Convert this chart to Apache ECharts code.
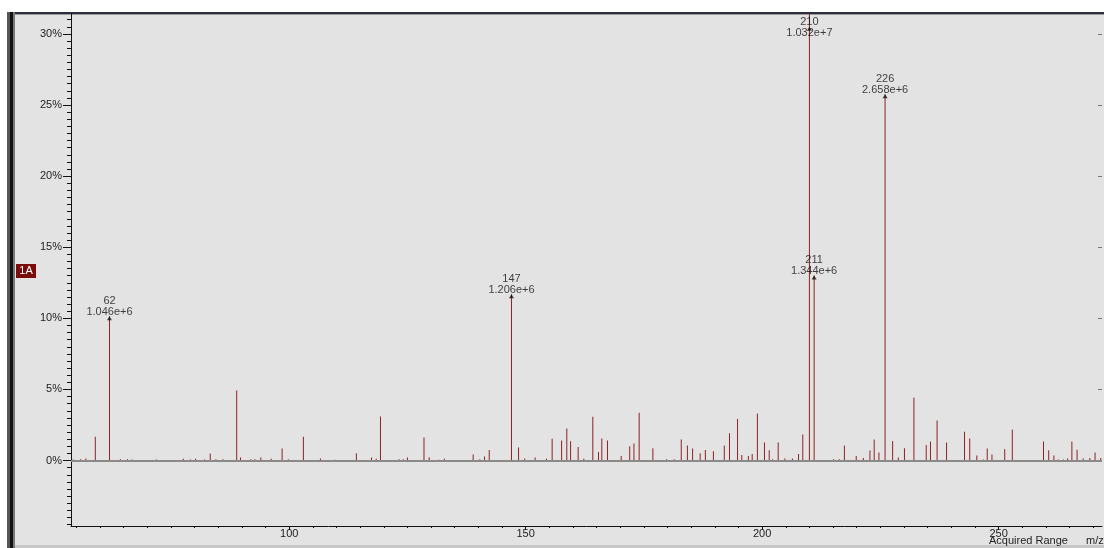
<!DOCTYPE html>
<html>
<head>
<meta charset="utf-8">
<script src="https://cdn.jsdelivr.net/npm/echarts@6/dist/echarts.min.js"></script>
<style>
  html, body { margin: 0; padding: 0; background: #fff; }
  #spec { width: 1104px; height: 548px; }
</style>
</head>
<body>
<div id="spec"></div>
<script>
// m/z of every line and its height in % of the base peak (210)
const mz = [
  54.3, 55.9, 57.0, 59.0, 62, 64.3, 65.8, 66.8, 67.8, 71.9,
  75.6, 77.6, 79.1, 80.2, 82.1, 83.3, 84.5, 86.0, 88.9, 89.7,
  91.9, 92.7, 94.0, 96.2, 98.5, 99.8, 103.0, 106.6, 109.7, 114.2,
  117.4, 118.4, 119.3, 123.2, 124.1, 125.0, 128.5, 129.6, 131.7, 132.8,
  138.9, 140.3, 141.3, 142.3, 147, 148.5, 149.8, 152.0, 154.4, 155.6,
  157.6, 158.7, 159.5, 161.1, 162.3, 164.2, 165.4, 166.1, 167.3, 170.2,
  172.0, 172.9, 174.0, 176.9, 179.8, 181.4, 182.9, 184.2, 185.3, 186.9,
  188.0, 189.7, 192.0, 193.1, 194.8, 195.7, 197.1, 197.9, 199.0, 200.5,
  201.5, 202.2, 203.4, 204.8, 206.4, 207.7, 208.6, 210, 211, 215.1,
  216.3, 217.4, 219.9, 221.4, 222.8, 223.7, 224.7, 226, 227.6, 228.8,
  230.1, 232.1, 234.7, 235.6, 237.0, 239.0, 242.8, 243.9, 245.4, 246.8,
  247.6, 248.6, 251.3, 252.9, 259.5, 260.6, 261.7, 262.6, 263.7, 264.6,
  265.5, 266.6, 267.9, 269.3, 270.4, 271.6
];
const rel = [
  0.07, 0.10, 0.15, 1.67, 10.14, 0.10, 0.10, 0.07, 0.03, 0.07,
  0.03, 0.12, 0.07, 0.12, 0.07, 0.49, 0.10, 0.10, 4.93, 0.21,
  0.10, 0.10, 0.21, 0.12, 0.85, 0.10, 1.67, 0.14, 0.05, 0.52,
  0.21, 0.12, 3.10, 0.10, 0.10, 0.21, 1.62, 0.23, 0.05, 0.12,
  0.42, 0.10, 0.28, 0.75, 11.69, 0.92, 0.14, 0.21, 0.12, 1.53,
  1.41, 2.25, 1.36, 0.96, 0.12, 3.08, 0.61, 1.55, 1.41, 0.33,
  1.01, 1.20, 3.36, 0.87, 0.10, 0.10, 1.48, 1.06, 0.85, 0.52,
  0.75, 0.66, 1.06, 1.92, 2.93, 0.40, 0.33, 0.47, 3.31, 1.27,
  0.73, 0.10, 1.27, 0.14, 0.14, 0.47, 1.83, 100, 13.02, 0.10,
  0.10, 1.06, 0.33, 0.19, 0.70, 1.48, 0.56, 25.76, 1.38, 0.21,
  0.87, 4.44, 1.10, 1.34, 2.82, 1.27, 2.02, 1.55, 0.35, 0.07,
  0.85, 0.42, 0.82, 2.18, 1.34, 0.73, 0.35, 0.07, 0.07, 0.14,
  1.34, 0.77, 0.14, 0.19, 0.56, 0.19
];

// labelled peaks
const peakMz = [62, 147, 210, 211, 226];
const peakCounts = ['1.046e+6', '1.206e+6', '1.032e+7', '1.344e+6', '2.658e+6'];

// axis ticks / labels
const xLabels = [100, 150, 200, 250];
const xTicks = [];
for (let v = 55; v <= 270; v += 5) xTicks.push(v);
const yLabels = [0, 5, 10, 15, 20, 25, 30];
const yTicks = [];
for (let v = -4.5; v <= 31; v += 0.5) yTicks.push(v);

const X_MIN = 53.86, X_MAX = 271.87;
const Y_MIN = -4.6, Y_MAX = 31.4;
const ARROW_TOP = 30.5; // where the clipped base peak gets its arrow

const font = "'Liberation Sans', Arial, sans-serif";

const chart = echarts.init(document.getElementById('spec'));

const peakData = peakMz.map((m, i) => {
  const p = rel[mz.indexOf(m)];
  const clipped = p > ARROW_TOP;
  const item = { name: String(m), value: [m, clipped ? ARROW_TOP : p] };
  if (clipped) item.label = { offset: [0, 10] };
  return item;
});

chart.setOption({
  backgroundColor: '#fff',
  animation: false,
  grid: { left: 71, right: 2, top: 14, bottom: 22, outerBoundsMode: 'none' },
  graphic: [
    // grey panel + frame
    { type: 'rect', z: -10, shape: { x: 15, y: 14, width: 1089, height: 532 }, style: { fill: '#e3e3e3' } },
    { type: 'rect', z: -9, shape: { x: 7, y: 12, width: 1097, height: 2 }, style: { fill: '#2b2f3a' } },
    { type: 'rect', z: -9, shape: { x: 15, y: 14, width: 1089, height: 1 }, style: { fill: '#9a9a9a' } },
    { type: 'rect', z: -9, shape: { x: 7, y: 12, width: 3, height: 536 }, style: { fill: '#555' } },
    { type: 'rect', z: -9, shape: { x: 10, y: 12, width: 3, height: 536 }, style: { fill: '#111' } },
    { type: 'rect', z: -9, shape: { x: 13, y: 12, width: 2, height: 536 }, style: { fill: '#777' } },
    { type: 'rect', z: -9, shape: { x: 15, y: 545, width: 1089, height: 3 }, style: { fill: '#c6c6c6' } },
    // trace tag
    { type: 'rect', z: 10, shape: { x: 16, y: 264, width: 20, height: 14 }, style: { fill: '#7b0c0c' } },
    { type: 'text', z: 11, x: 26, y: 271, style: { text: '1A', fill: '#fff', font: '11px ' + font, align: 'center', verticalAlign: 'middle' } },
    { type: 'text', z: 11, x: 989, y: 541, style: { text: 'Acquired Range', fill: '#222', font: '11px ' + font, verticalAlign: 'middle' } },
    { type: 'text', z: 11, x: 1086, y: 541, style: { text: 'm/z', fill: '#222', font: '11px ' + font, verticalAlign: 'middle' } }
  ],
  xAxis: [
    {
      type: 'value', min: X_MIN, max: X_MAX, position: 'bottom',
      axisLine: { show: true, onZero: false, lineStyle: { color: '#111', width: 1 } },
      axisTick: { show: true, customValues: xTicks, length: 2, lineStyle: { color: '#111' } },
      axisLabel: { show: true, customValues: xLabels, margin: 2, color: '#222', fontSize: 11, fontFamily: font },
      splitLine: { show: false }
    },
    {
      type: 'value', min: X_MIN, max: X_MAX, position: 'bottom', offset: 0,
      axisLine: { show: false, onZero: false },
      axisTick: { show: true, customValues: xLabels, length: 4, lineStyle: { color: '#111' } },
      axisLabel: { show: false },
      splitLine: { show: false }
    }
  ],
  yAxis: [
    {
      type: 'value', min: Y_MIN, max: Y_MAX, position: 'left',
      axisLine: { show: true, onZero: false, lineStyle: { color: '#111', width: 1 } },
      axisTick: { show: true, customValues: yLabels, length: 8, lineStyle: { color: '#111' } },
      axisLabel: { show: true, customValues: yLabels, margin: 9, color: '#222', fontSize: 11, fontFamily: font, formatter: v => v + '%' },
      splitLine: { show: false }
    },
    {
      type: 'value', min: Y_MIN, max: Y_MAX, position: 'left', offset: 0,
      axisLine: { show: false, onZero: false },
      axisTick: { show: true, customValues: yTicks, length: 4, lineStyle: { color: '#111' } },
      axisLabel: { show: false },
      splitLine: { show: false }
    },
    {
      type: 'value', min: Y_MIN, max: Y_MAX, position: 'right',
      axisLine: { show: false, onZero: false },
      axisTick: { show: true, inside: true, customValues: yLabels, length: 4, lineStyle: { color: '#777' } },
      axisLabel: { show: false },
      splitLine: { show: false }
    }
  ],
  series: [
    {
      type: 'bar',
      barWidth: 1,
      clip: true,
      itemStyle: { color: '#8e2222' },
      data: mz.map((m, i) => [m, rel[i]]),
      markLine: {
        silent: true, symbol: 'none', label: { show: false },
        lineStyle: { color: '#8a8a8a', width: 2, type: 'solid' },
        data: [{ yAxis: 0 }]
      }
    },
    {
      type: 'scatter',
      clip: false,
      symbol: 'triangle',
      symbolSize: [5, 4],
      symbolOffset: [0, 2],
      itemStyle: { color: '#111' },
      label: {
        show: true, position: 'top', distance: -1.5,
        color: '#111', fontSize: 11, lineHeight: 11, fontFamily: font,
        formatter: p => p.name + '\n' + peakCounts[p.dataIndex]
      },
      data: peakData
    }
  ]
});
</script>
</body>
</html>
